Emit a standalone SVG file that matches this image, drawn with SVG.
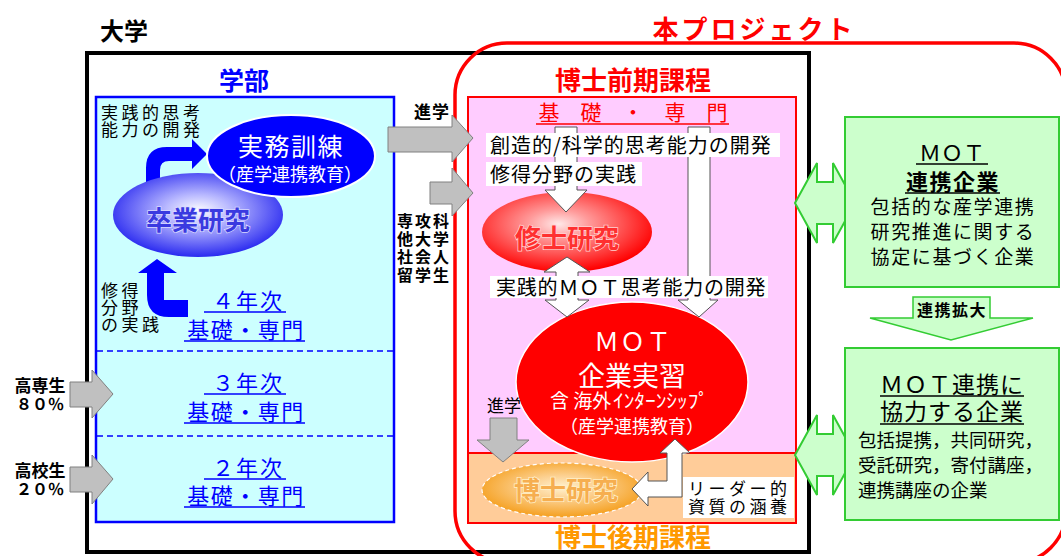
<svg xmlns="http://www.w3.org/2000/svg" width="1061" height="556" viewBox="0 0 1061 556">
<defs>
<style>
text{font-family:"Noto Sans CJK JP","Noto Sans CJK SC",sans-serif;}
.b{font-weight:bold}
.blue{fill:#0000ff}
.wt{fill:#ffffff}
.gray{fill:#c0c0c0;stroke:#808080;stroke-width:1}
.warr{fill:#ffffff;stroke:#555555;stroke-width:1}
.garr{fill:#ccffcc;stroke:#33cc33;stroke-width:2}
.ulb{stroke:#0000ff;stroke-width:1.6}
.ulk{stroke:#000000;stroke-width:1.6}
.wbox{fill:#ffffff}
.sm{font-size:17px;letter-spacing:3.5px;fill:#000}
</style>
<radialGradient id="gBlue" cx="0.5" cy="0.45" r="0.55">
<stop offset="0" stop-color="#ffffff"/>
<stop offset="0.35" stop-color="#b8b8ff"/>
<stop offset="1" stop-color="#2a2af0"/>
</radialGradient>
<radialGradient id="gRed" cx="0.45" cy="0.4" r="0.6">
<stop offset="0" stop-color="#ffe8e8"/>
<stop offset="0.3" stop-color="#ff9a9a"/>
<stop offset="1" stop-color="#ff0000"/>
</radialGradient>
<radialGradient id="gOr" cx="0.5" cy="0.45" r="0.55">
<stop offset="0" stop-color="#fff2d0"/>
<stop offset="0.4" stop-color="#fcd090"/>
<stop offset="1" stop-color="#f5a020"/>
</radialGradient>
</defs>
<rect width="1061" height="556" fill="#ffffff"/>

<text x="100" y="40" class="b" font-size="24" fill="#000">大学</text>
<text x="754" y="39" class="b" font-size="26" fill="#ff0000" letter-spacing="3" text-anchor="middle">本プロジェクト</text>

<g id="university">
<rect x="87" y="53" width="722" height="499" fill="none" stroke="#000" stroke-width="4"/>
</g>

<g id="project">
<path d="M507,43 L1014,43 A52,52 0 0 1 1066,95 L1066,511 A52,52 0 0 1 1014,563 L507,563 A52,52 0 0 1 455,511 L455,95 A52,52 0 0 1 507,43 Z" fill="none" stroke="#ff0000" stroke-width="3.5"/>
</g>

<g id="faculty">
<text x="244" y="90" class="b blue" font-size="25" text-anchor="middle">学部</text>
<rect x="96" y="97" width="298" height="425" fill="#ccffff" stroke="#0000ff" stroke-width="2.5"/>
<line x1="97" y1="351" x2="393" y2="351" stroke="#0000ff" stroke-width="1.5" stroke-dasharray="6 4"/>
<line x1="97" y1="436" x2="393" y2="436" stroke="#0000ff" stroke-width="1.5" stroke-dasharray="6 4"/>
<text class="sm"><tspan x="101" y="119">実践的思考</tspan><tspan x="101" y="136">能力の開発</tspan></text>
<text class="sm"><tspan x="101" y="297">修得</tspan><tspan x="101" y="314">分野</tspan><tspan x="101" y="331">の実践</tspan></text>
</g>

<g id="year4">
<text x="248" y="309" class="blue" font-size="22" letter-spacing="2" text-anchor="middle">４年次</text>
<line x1="204" y1="312" x2="286" y2="312" class="ulb"/>
<text x="246" y="338" class="blue" font-size="22" letter-spacing="1.5" text-anchor="middle">基礎・専門</text>
<line x1="184" y1="341" x2="305" y2="341" class="ulb"/>
</g>
<g id="year3">
<text x="248" y="391" class="blue" font-size="22" letter-spacing="2" text-anchor="middle">３年次</text>
<line x1="204" y1="394" x2="286" y2="394" class="ulb"/>
<text x="246" y="420" class="blue" font-size="22" letter-spacing="1.5" text-anchor="middle">基礎・専門</text>
<line x1="184" y1="423" x2="305" y2="423" class="ulb"/>
</g>
<g id="year2">
<text x="248" y="476" class="blue" font-size="22" letter-spacing="2" text-anchor="middle">２年次</text>
<line x1="204" y1="479" x2="286" y2="479" class="ulb"/>
<text x="246" y="504" class="blue" font-size="22" letter-spacing="1.5" text-anchor="middle">基礎・専門</text>
<line x1="184" y1="507" x2="305" y2="507" class="ulb"/>
</g>

<g id="master-course">
<text x="633" y="90" class="b" font-size="26" fill="#ff0000" text-anchor="middle">博士前期課程</text>
<rect x="468" y="97" width="328" height="356" fill="#ffccff" stroke="#ff0000" stroke-width="2"/>
<text x="633" y="120" font-size="21" fill="#ff0000" text-anchor="middle">基　礎　・　専　門</text>
<line x1="536" y1="124" x2="729" y2="124" stroke="#ff0000" stroke-width="1.6"/>
</g>
<g id="doctor-course">
<rect x="468" y="453" width="328" height="70" fill="#ffcc99" stroke="#ff0000" stroke-width="2"/>
<text x="633" y="547" class="b" font-size="26" fill="#ff9900" text-anchor="middle">博士後期課程</text>
</g>

<g id="connectors">
<path d="M146,182 L146,168 Q146,147 167,147 L192,147 L192,139 L207,154 L192,169 L192,161 L169,161 Q160,161 160,170 L160,182 Z" fill="#0000ff"/>
<path d="M157,259 L177,273 L164,273 L164,300 L188,300 L188,317 L169,317 Q147,317 147,295 L147,273 L138,273 Z" fill="#0000ff"/>
<path d="M70,382 L92,382 L92,370 L113,394 L92,418 L92,407 L70,407 Z" class="gray"/>
<path d="M70,467 L92,467 L92,455 L113,479 L92,504 L92,492 L70,492 Z" class="gray"/>
<path d="M388,127 L452,127 L452,115 L473,138 L452,162 L452,152 L388,152 Z" class="gray"/>
<path d="M430,182 L452,182 L452,168 L473,193 L452,216 L452,204 L430,204 Z" class="gray"/>
<path d="M795,203 L817,163 L817,182 L833,182 L833,163 L855,203 L833,243 L833,224 L817,224 L817,243 Z" class="garr"/>
<path d="M795,455 L817,415 L817,434 L833,434 L833,415 L855,455 L833,495 L833,476 L817,476 L817,495 Z" class="garr"/>
<path d="M913,297 L990,297 L990,318 L1033,318 L951,340 L870,318 L913,318 Z" fill="#ccffcc" stroke="#33cc33" stroke-width="1.5"/>
</g>

<g id="sotsugyo">
<ellipse cx="198" cy="215" rx="85" ry="42" fill="url(#gBlue)"/>
<text x="198" y="230" class="b" font-size="26" fill="#3a3ae0" stroke="#d8d8ff" stroke-width="1.5" paint-order="stroke" text-anchor="middle">卒業研究</text>
</g>
<g id="jitsumu">
<ellipse cx="291" cy="156" rx="84" ry="41" fill="#0000ff" stroke="#ffffff" stroke-width="2"/>
<text class="wt" text-anchor="middle"><tspan x="291" y="156" font-size="25" letter-spacing="1.5">実務訓練</tspan><tspan x="290" y="181" font-size="18">（産学連携教育）</tspan></text>
</g>

<g id="shushi">
<ellipse cx="567" cy="232" rx="85" ry="40" fill="url(#gRed)"/>
<text x="567" y="248" class="b" font-size="26" fill="#ff3030" stroke="#ffd0d0" stroke-width="1.5" paint-order="stroke" text-anchor="middle">修士研究</text>
</g>
<g id="mot-intern">
<ellipse cx="632" cy="382" rx="116" ry="80" fill="#ff0000" stroke="#ffffff" stroke-width="1.5"/>
<text class="wt" text-anchor="middle"><tspan x="633" y="351" font-size="25" letter-spacing="1">ＭＯＴ</tspan><tspan x="632" y="386" font-size="27">企業実習</tspan></text>
<text class="wt" font-size="19"><tspan x="550" y="408">含 海外</tspan><tspan x="613" y="408" textLength="96" lengthAdjust="spacingAndGlyphs">ｲﾝﾀｰﾝｼｯﾌﾟ</tspan><tspan x="632" y="433" font-size="18" text-anchor="middle">（産学連携教育）</tspan></text>
</g>
<g id="hakushi">
<ellipse cx="562" cy="490" rx="80" ry="27" fill="url(#gOr)" stroke="#ffffff" stroke-width="1.2" stroke-dasharray="4 3"/>
<text x="566" y="500" class="b" font-size="26" fill="#f6ae50" stroke="#fff0c8" stroke-width="1.5" paint-order="stroke" text-anchor="middle">博士研究</text>
</g>

<g id="connectors2">
<path d="M555,127 L577,127 L577,190 L587,190 L566,212 L545,190 L555,190 Z" class="warr"/>
<path d="M688,127 L710,127 L710,300 L718,300 L699,317 L678,300 L688,300 Z" class="warr"/>
<path d="M567,257 L590,272 L578,272 L578,300 L589,300 L567,317 L545,300 L556,300 L556,272 L544,272 Z" class="warr"/>
<path d="M632,489 L648,472 L648,481 L667,481 L667,453 L660,453 L675,439 L690,453 L682,453 L682,497 L648,497 L648,506 Z" class="warr"/>
<path d="M490,418 L517,418 L517,440 L529,440 L503,462 L477,440 L490,440 Z" class="gray"/>
</g>

<g id="labels">
<rect x="486" y="133" width="294" height="24" class="wbox"/>
<text x="490" y="153" font-size="20" letter-spacing="1" fill="#000">創造的/科学的思考能力の開発</text>
<rect x="486" y="162" width="156" height="24" class="wbox"/>
<text x="490" y="182" font-size="20" letter-spacing="1" fill="#000">修得分野の実践</text>
<rect x="490" y="276" width="278" height="22" class="wbox"/>
<text x="496" y="295" font-size="20" letter-spacing="0.8" fill="#000">実践的ＭＯＴ思考能力の開発</text>
<rect x="683" y="477" width="111" height="41" class="wbox"/>
<text class="sm" letter-spacing="3"><tspan x="688" y="495">リーダー的</tspan><tspan x="688" y="513">資質の涵養</tspan></text>
<text x="504" y="412" font-size="17" fill="#000" text-anchor="middle">進学</text>
<text x="432" y="118" class="b" font-size="17" letter-spacing="1" text-anchor="middle" fill="#000">進学</text>
<text class="b" font-size="16" letter-spacing="2" text-anchor="middle" fill="#000"><tspan x="424" y="227">専攻科</tspan><tspan x="424" y="245">他大学</tspan><tspan x="424" y="263">社会人</tspan><tspan x="424" y="281">留学生</tspan></text>
<text class="b" text-anchor="middle" fill="#000"><tspan x="40" y="392" font-size="17">高専生</tspan><tspan x="40" y="410" font-size="16">８０％</tspan></text>
<text class="b" text-anchor="middle" fill="#000"><tspan x="40" y="477" font-size="17">高校生</tspan><tspan x="40" y="495" font-size="16">２０％</tspan></text>
<text x="952" y="316" class="b" font-size="16" letter-spacing="1.5" text-anchor="middle" fill="#000">連携拡大</text>
</g>

<g id="mot-partner">
<rect x="845" y="117" width="214" height="170" fill="#ccffcc" stroke="#33cc33" stroke-width="2"/>
<text text-anchor="middle" fill="#000"><tspan x="952" y="161" font-size="22">ＭＯＴ</tspan><tspan x="953" y="190" font-size="22" font-weight="bold" letter-spacing="1.5">連携企業</tspan></text>
<line x1="916" y1="164" x2="988" y2="164" class="ulk"/>
<line x1="905" y1="193" x2="1000" y2="193" class="ulk"/>
<text font-size="19" letter-spacing="1.6" text-anchor="middle" fill="#000"><tspan x="953" y="214">包括的な産学連携</tspan><tspan x="953" y="239">研究推進に関する</tspan><tspan x="953" y="264">協定に基づく企業</tspan></text>
</g>
<g id="mot-cooperator">
<rect x="845" y="348" width="214" height="172" fill="#ccffcc" stroke="#33cc33" stroke-width="2"/>
<text font-size="23" letter-spacing="1" text-anchor="middle" fill="#000"><tspan x="952" y="393">ＭＯＴ連携に</tspan><tspan x="952" y="420">協力する企業</tspan></text>
<line x1="880" y1="396" x2="1024" y2="396" class="ulk"/>
<line x1="880" y1="424" x2="1024" y2="424" class="ulk"/>
<text font-size="18.5" fill="#000"><tspan x="858" y="447">包括提携，共同研究，</tspan><tspan x="858" y="472">受託研究，寄付講座，</tspan><tspan x="858" y="497">連携講座の企業</tspan></text>
</g>
</svg>
